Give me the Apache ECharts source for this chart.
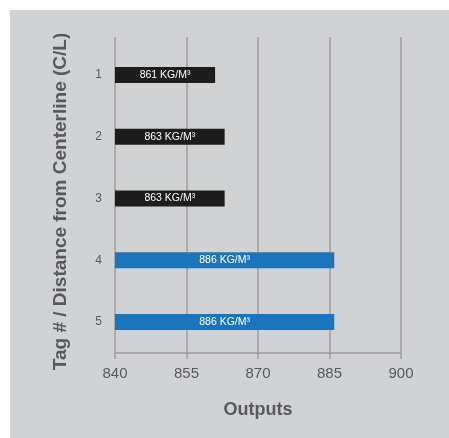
<!DOCTYPE html>
<html>
<head>
<meta charset="utf-8">
<script src="https://cdn.jsdelivr.net/npm/echarts@6/dist/echarts.min.js"></script>
<style>
  html, body { margin: 0; padding: 0; background: #ffffff; }
  #chart { width: 449px; height: 438px; }
</style>
</head>
<body>
<div id="chart"></div>
<script>
// Tag positions and their measured density outputs
const tags = ['1', '2', '3', '4', '5'];
const outputs = [861, 863, 863, 886, 886];
const xMin = 840;
const xMax = 900;
const xStep = 15;
const unit = 'KG/M³';

const FONT = '"Liberation Sans", Arial, Helvetica, sans-serif';
const TEXT = '#58595b';
const GRID_LINE = '#9d9d9f';
const DARK = '#1d1d1b';
const BLUE = '#1b75bc';

const chart = echarts.init(document.getElementById('chart'), null, { renderer: 'canvas' });

chart.setOption({
  backgroundColor: '#ffffff',
  animation: false,
  textStyle: { fontFamily: FONT },
  graphic: [{
    type: 'rect',
    left: 10, top: 10, z: -10,
    shape: { width: 439, height: 428 },
    style: { fill: '#d1d2d4' }
  }],
  grid: [
    // bars
    { left: 115, right: 48, top: 44, bottom: 85 },
    // value scale, ticks and vertical rules
    { left: 115, right: 48, top: 37, bottom: 85 }
  ],
  xAxis: [
    {
      gridIndex: 0, type: 'value', min: xMin, max: xMax, interval: xStep,
      show: false
    },
    {
      gridIndex: 1, type: 'value', min: xMin, max: xMax, interval: xStep,
      name: 'Outputs', nameLocation: 'middle', nameGap: 48,
      nameTextStyle: { color: TEXT, fontSize: 18, fontWeight: 'bold', fontFamily: FONT },
      axisLine: { show: true, lineStyle: { color: GRID_LINE, width: 1.5 } },
      axisTick: { show: true, length: 6, lineStyle: { color: GRID_LINE, width: 1.5 } },
      axisLabel: { color: TEXT, fontSize: 15, margin: 13, fontFamily: FONT },
      splitLine: { show: true, lineStyle: { color: GRID_LINE, width: 1.5 } }
    }
  ],
  yAxis: [
    {
      gridIndex: 0, type: 'category', data: tags, inverse: true,
      name: 'Tag # / Distance from Centerline (C/L)',
      nameLocation: 'middle', nameGap: 45,
      nameTextStyle: {
        color: TEXT, fontSize: 19, fontWeight: 'bold', fontFamily: FONT,
        padding: [0, 6, 0, 0]
      },
      axisLine: { show: false },
      axisTick: { show: false },
      axisLabel: { color: TEXT, fontSize: 12, margin: 13, fontFamily: FONT },
      splitLine: { show: false }
    },
    {
      gridIndex: 1, type: 'value', show: false
    }
  ],
  series: [{
    type: 'bar',
    xAxisIndex: 0, yAxisIndex: 0,
    data: outputs,
    barWidth: 16,
    itemStyle: {
      color: function (p) { return p.dataIndex < 3 ? DARK : BLUE; }
    },
    label: {
      show: true,
      position: 'inside',
      color: '#ffffff',
      fontSize: 10.5,
      fontFamily: FONT,
      formatter: function (p) { return p.value + ' ' + unit; }
    }
  }]
});
</script>
</body>
</html>
